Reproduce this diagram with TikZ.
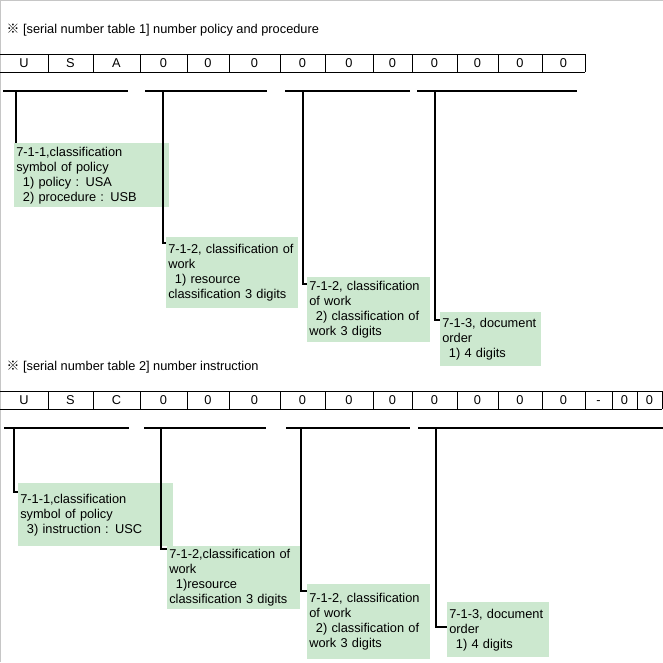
\documentclass[tikz,border=0pt]{standalone}
\usepackage{fontspec}
\setmainfont{Liberation Sans}
\newfontfamily\markfont{Noto Sans CJK KR}
\usepackage{xcolor}
\usepackage{tikz}
\definecolor{notegreen}{HTML}{CCE8CF}

\begin{document}
\begin{tikzpicture}[x=0.75pt,y=-0.75pt,
		every node/.style={font=\fontsize{9.6}{11.25}\selectfont},
		cell/.style={inner sep=0pt, text height=6.8pt, text depth=0pt},
		grid/.style={line width=0.75pt},
		bar/.style={line width=1.5pt},
		conn/.style={line width=1.5pt},
		note/.style={fill=notegreen, anchor=north west, align=left, inner xsep=1.5pt, inner ysep=0pt}]

		\useasboundingbox (0,0) rectangle (663,662);
		\draw[gray!45] (0.5,662) -- (0.5,0.5) -- (663,0.5);

		% serial number table 1
		\node[anchor=west] (title1) at (2,30) {{\markfont ※} [serial number table 1] number policy and procedure};
		\draw[grid] (0,54) -- (585,54) (0,72) -- (585,72);
		\foreach \a/\b/\l [count=\i] in {0/48/U, 48/93/S, 93/140/A, 140/187/0, 187/229/0, 229/280/0, 280/325/0, 325/373/0, 373/412/0, 412/457/0, 457/498/0, 498/542/0, 542/585/0}{
			\draw[grid] (\b,54) -- (\b,72);
			\node[cell] (a\i) at ({(\a+\b)/2},63) {\l};
		}

		\draw[bar] (3,90.5) -- (128,90.5);
		\draw[bar] (145,90.5) -- (267,90.5);
		\draw[bar] (285,90.5) -- (410,90.5);
		\draw[bar] (417,90.5) -- (577,90.5);
		\coordinate (s1) at (16,90);
		\coordinate (s2) at (163,90);
		\coordinate (s3) at (303,90);
		\coordinate (s4) at (435,90);

		\node[note, text width=113.25pt, minimum height=48pt] (n1) at (14,143) {7-1-1,classification\\symbol of policy\\\hspace*{5pt}1) policy : USA\\\hspace*{5pt}2) procedure : USB};
		\node[note, text width=96pt, minimum height=53.25pt] (n2) at (166,237) {7-1-2, classification of\\work\\\hspace*{5pt}1) resource\\classification 3 digits};
		\node[note, text width=89.25pt, minimum height=48.75pt] (n3) at (307,277) {7-1-2, classification\\of work\\\hspace*{5pt}2) classification of\\work 3 digits};
		\node[note, text width=72.75pt, minimum height=40.5pt] (n4) at (440,312) {7-1-3, document\\order\\\hspace*{5pt}1) 4 digits};

		\draw[conn] (s1) -- (s1 |- n1.north);
		\draw[conn] (s2) |- ([yshift=-4.5pt]n2.north west);
		\draw[conn] (s3) |- ([yshift=-5.25pt]n3.north west);
		\draw[conn] (s4) |- ([yshift=-6pt]n4.north west);

		% serial number table 2
		\node[anchor=west] (title2) at (2,367) {{\markfont ※} [serial number table 2] number instruction};
		\draw[grid] (0,391) -- (662,391) (0,409) -- (662,409);
		\foreach \a/\b/\l [count=\i] in {0/48/U, 48/93/S, 93/140/C, 140/187/0, 187/229/0, 229/280/0, 280/325/0, 325/373/0, 373/412/0, 412/457/0, 457/498/0, 498/542/0, 542/585/0, 585/612/-, 612/637/0, 637/662/0}{
			\draw[grid] (\b,391) -- (\b,409);
			\node[cell] (b\i) at ({(\a+\b)/2},400) {\l};
		}

		\draw[bar] (4,428) -- (129,428);
		\draw[bar] (144,428) -- (266,428);
		\draw[bar] (286,428) -- (410,428);
		\draw[bar] (418,428) -- (663,428);
		\coordinate (t1) at (14,427.5);
		\coordinate (t2) at (161,427.5);
		\coordinate (t3) at (301,427.5);
		\coordinate (t4) at (436,427.5);

		\node[note, text width=113.25pt, minimum height=47.25pt] (m1) at (18,483) {7-1-1,classification\\symbol of policy\\\hspace*{5pt}3) instruction : USC};
		\node[note, text width=96.75pt, minimum height=47.25pt] (m2) at (167,546) {7-1-2,classification of\\work\\\hspace*{5pt}1)resource\\classification 3 digits};
		\node[note, text width=89.25pt, minimum height=56.25pt] (m3) at (307,584) {7-1-2, classification\\of work\\\hspace*{5pt}2) classification of\\work 3 digits};
		\node[note, text width=73.5pt, minimum height=41.25pt] (m4) at (447,602) {7-1-3, document\\order\\\hspace*{5pt}1) 4 digits};

		\draw[conn] (t1) |- ([yshift=-6.75pt]m1.north west);
		\draw[conn] (t2) |- ([yshift=-2.25pt]m2.north west);
		\draw[conn] (t3) |- ([yshift=-5.25pt]m3.north west);
		\draw[conn] (t4) |- ([yshift=-18.75pt]m4.north west);
	\end{tikzpicture}
\end{document}
